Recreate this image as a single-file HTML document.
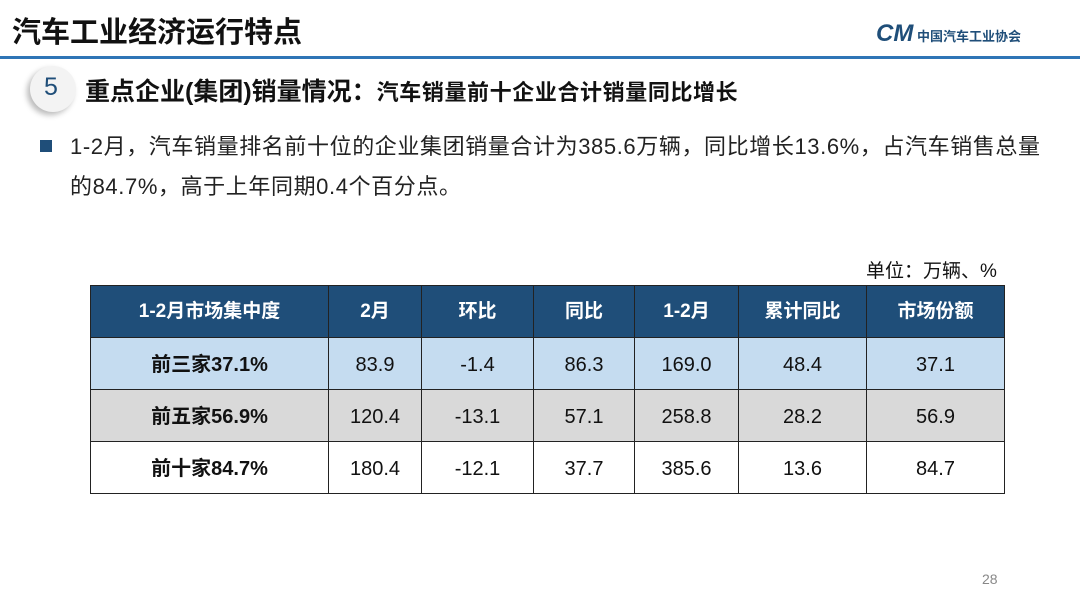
<!DOCTYPE html>
<html><head><meta charset="utf-8"><style>
body{margin:0;width:1080px;height:607px;background:#fff;position:relative;overflow:hidden;font-family:"Liberation Sans","Noto Sans CJK SC",sans-serif;color:#111}
.a{position:absolute;white-space:nowrap}
table{position:absolute;left:90px;top:285px;border-collapse:collapse;font-size:20px}
td{border:1.5px solid #222;text-align:center;padding:0;line-height:24px;vertical-align:middle}
tr.h td{background:#1f4e79;color:#fff;font-weight:bold;height:51px;font-size:19px}
tr td{height:48px;padding-top:3px}
tr.h td{padding-top:0}
tr.r1 td{background:#c5dcf0}
tr.r2 td{background:#d9d9d9}
td.f{font-weight:bold}
</style></head><body>
<div class="a" style="left:12px;top:9px;font-size:29px;font-weight:bold">汽车工业经济运行特点</div>
<div class="a" style="left:0;top:56px;width:1080px;height:3px;background:#2e75b6"></div>
<div class="a" style="left:876px;top:20px;font-size:13px;color:#1f4e79;font-weight:bold">
<span style="font-size:24px;font-style:italic;color:#1f4e79">CM</span> 中国汽车工业协会</div>
<div class="a" style="left:30px;top:66px;width:46px;height:46px;border-radius:50%;background:#f3f3f3;box-shadow:-3px 3px 6px #bbb"></div>
<div class="a" style="left:44px;top:73px;font-size:25px;color:#1f4e79">5</div>
<div class="a" style="left:85px;top:72px;font-size:25px;font-weight:bold">重点企业(集团)销量情况：<span style="font-size:22px;letter-spacing:0.6px">汽车销量前十企业合计销量同比增长</span></div>
<div class="a" style="left:40px;top:140px;width:12px;height:12px;background:#1f4e79"></div>
<div class="a" style="left:70px;top:127px;font-size:22px;letter-spacing:0.6px;color:#222;line-height:40px">1-2月，汽车销量排名前十位的企业集团销量合计为385.6万辆，同比增长13.6%，占汽车销售总量<br>的84.7%，高于上年同期0.4个百分点。</div>
<div class="a" style="left:866px;top:256px;font-size:19px">单位：万辆、%</div>
<table>
<tr class="h"><td style="width:237px">1-2月市场集中度</td><td style="width:92px">2月</td><td style="width:111px">环比</td><td style="width:100px">同比</td><td style="width:103px">1-2月</td><td style="width:127px">累计同比</td><td style="width:137px">市场份额</td></tr>
<tr class="r1"><td class="f">前三家37.1%</td><td>83.9</td><td>-1.4</td><td>86.3</td><td>169.0</td><td>48.4</td><td>37.1</td></tr>
<tr class="r2"><td class="f">前五家56.9%</td><td>120.4</td><td>-13.1</td><td>57.1</td><td>258.8</td><td>28.2</td><td>56.9</td></tr>
<tr><td class="f">前十家84.7%</td><td>180.4</td><td>-12.1</td><td>37.7</td><td>385.6</td><td>13.6</td><td>84.7</td></tr>
</table>
<div class="a" style="left:982px;top:571px;font-size:14px;color:#888">28</div>
</body></html>
